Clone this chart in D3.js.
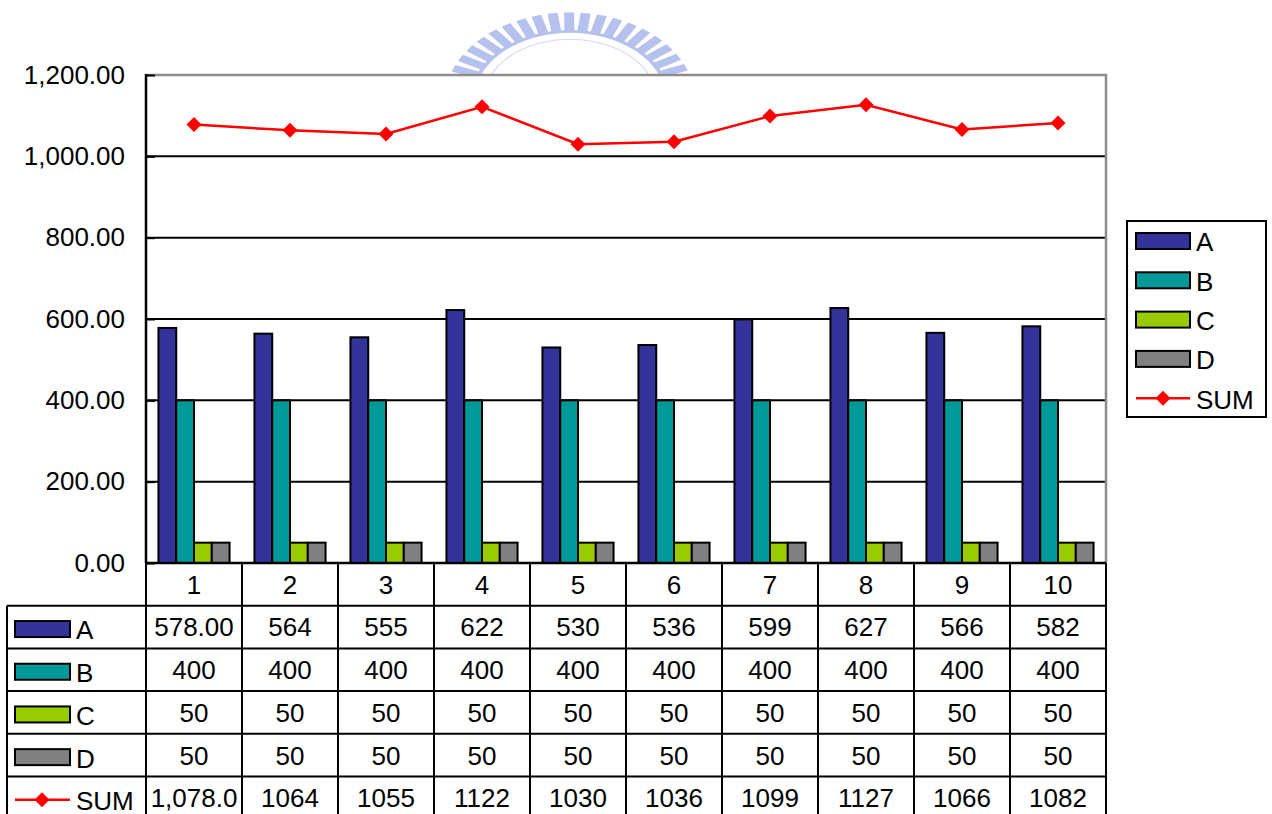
<!DOCTYPE html>
<html>
<head>
<meta charset="utf-8">
<script src="https://cdn.jsdelivr.net/npm/d3@7"></script>
<style>
  body { margin: 0; background: #fff; }
  svg text { font-family: "Liberation Sans", Arial, sans-serif; fill: #000; }
</style>
</head>
<body>
<div id="chart"></div>
<script>
var width = 1272
var height = 814

// chart data
var categories = ["1", "2", "3", "4", "5", "6", "7", "8", "9", "10"]
var seriesNames = ["A", "B", "C", "D"]
var valuesA = [578, 564, 555, 622, 530, 536, 599, 627, 566, 582]
var valuesB = [400, 400, 400, 400, 400, 400, 400, 400, 400, 400]
var valuesC = [50, 50, 50, 50, 50, 50, 50, 50, 50, 50]
var valuesD = [50, 50, 50, 50, 50, 50, 50, 50, 50, 50]
var valuesSum = [1078, 1064, 1055, 1122, 1030, 1036, 1099, 1127, 1066, 1082]
var yTicks = [0, 200, 400, 600, 800, 1000, 1200]
var barColors = ["#333399", "#009999", "#99cc00", "#808080"]
var sumColor = "#ff0000"
// number formats in the data table (first column differs from the others)
var firstColFormats = [".2f", "d", "d", "d", ",.1f"]
var otherColFormat = "d"

var barSeries = [valuesA, valuesB, valuesC, valuesD]

// plot area
var plot = {left: 146, right: 1106, top: 75, bottom: 563}
var rowH = 42.7
var tableLeft = 7
var fontSize = 26

var svg = d3.select("#chart").append("svg")
    .attr("width", width)
    .attr("height", height)

// faint watermark logo behind the chart
var wm = svg.append("g")
    .attr("transform", "translate(570,100) scale(1,0.7)")
    .attr("opacity", 0.5)
for (var a = -84; a <= 84; a += 7.6) {
    wm.append("rect")
        .attr("x", -5).attr("y", -125)
        .attr("width", 10).attr("height", 28)
        .attr("fill", "#6f86dc")
        .attr("transform", "rotate(" + a + ")")
}
wm.append("path")
    .attr("d", d3.arc()({innerRadius: 96, outerRadius: 100, startAngle: -1.5, endAngle: 1.5}))
    .attr("fill", "#6f86dc")
wm.append("path")
    .attr("d", d3.arc()({innerRadius: 86, outerRadius: 87.5, startAngle: -1.3, endAngle: 1.3}))
    .attr("fill", "#a9b8ea")

// scales
var x = d3.scaleBand().domain(categories).range([plot.left, plot.right]).paddingInner(0).paddingOuter(0)
var xInner = d3.scaleBand().domain(seriesNames).range([0, x.bandwidth()]).paddingInner(0).paddingOuter(0.7)
var y = d3.scaleLinear().domain([0, 1200]).range([plot.bottom, plot.top])

// plot background
svg.append("rect")
    .attr("x", plot.left).attr("y", plot.top)
    .attr("width", plot.right - plot.left).attr("height", plot.bottom - plot.top)
    .attr("fill", "#fff")

// gridlines
svg.append("g").selectAll("line")
    .data(yTicks.filter(function(d) { return d > 0 && d < 1200 }))
    .enter().append("line")
    .attr("x1", plot.left).attr("x2", plot.right)
    .attr("y1", function(d) { return y(d) }).attr("y2", function(d) { return y(d) })
    .attr("stroke", "#000").attr("stroke-width", 2)

// gray frame (top and right)
svg.append("path")
    .attr("d", "M" + plot.left + "," + y(1200) + "H" + plot.right + "V" + plot.bottom)
    .attr("fill", "none").attr("stroke", "#8c8c8c").attr("stroke-width", 2.5)

// bars
var groups = svg.append("g").selectAll("g")
    .data(categories)
    .enter().append("g")
    .attr("transform", function(d) { return "translate(" + x(d) + ",0)" })

groups.selectAll("rect")
    .data(function(d, i) { return barSeries.map(function(s, j) { return {name: seriesNames[j], value: s[i], k: j} }) })
    .enter().append("rect")
    .attr("x", function(d) { return xInner(d.name) })
    .attr("width", xInner.bandwidth())
    .attr("y", function(d) { return y(d.value) })
    .attr("height", function(d) { return y(0) - y(d.value) })
    .attr("fill", function(d) { return barColors[d.k] })
    .attr("stroke", "#000").attr("stroke-width", 2)

// y axis
var yAxis = d3.axisLeft(y)
    .tickValues(yTicks)
    .tickFormat(d3.format(",.2f"))
    .tickSizeInner(-9)
    .tickSizeOuter(0)
    .tickPadding(21)
var yG = svg.append("g")
    .attr("transform", "translate(" + plot.left + ",0)")
    .call(yAxis)
yG.select(".domain").remove()
yG.selectAll(".tick line").attr("stroke", "#000").attr("stroke-width", 2)
yG.selectAll(".tick text")
    .attr("font-size", fontSize)
    .attr("font-family", "Liberation Sans, Arial, sans-serif")
    .attr("fill", "#000")
svg.append("line")
    .attr("x1", plot.left).attr("x2", plot.left)
    .attr("y1", plot.top - 1).attr("y2", plot.bottom)
    .attr("stroke", "#000").attr("stroke-width", 2.5)

// SUM line with diamond markers
var line = d3.line()
    .x(function(d, i) { return x(categories[i]) + x.bandwidth() / 2 })
    .y(function(d) { return y(d) })
svg.append("path")
    .datum(valuesSum)
    .attr("d", line)
    .attr("fill", "none").attr("stroke", sumColor).attr("stroke-width", 2.5)

var diamond = "M0,-7.5L7.5,0L0,7.5L-7.5,0Z"
svg.append("g").selectAll("path")
    .data(valuesSum)
    .enter().append("path")
    .attr("d", diamond)
    .attr("transform", function(d, i) { return "translate(" + (x(categories[i]) + x.bandwidth() / 2) + "," + y(d) + ")" })
    .attr("fill", sumColor)

// data table
var table = svg.append("g")
var rowNames = seriesNames.concat(["SUM"])
var rowValues = barSeries.concat([valuesSum])
var tableTop = plot.bottom + rowH   // first data row

// category label row
table.selectAll(".cat")
    .data(categories)
    .enter().append("text")
    .attr("class", "cat")
    .attr("x", function(d) { return x(d) + x.bandwidth() / 2 })
    .attr("y", plot.bottom + rowH / 2)
    .attr("dy", "0.36em")
    .attr("text-anchor", "middle")
    .attr("font-size", fontSize)
    .text(function(d) { return d })

// row lines
var rowLines = d3.range(0, rowNames.length + 1).map(function(i) { return tableTop + i * rowH })
table.selectAll(".rowline")
    .data(rowLines)
    .enter().append("line")
    .attr("x1", tableLeft).attr("x2", plot.right)
    .attr("y1", function(d) { return d }).attr("y2", function(d) { return d })
    .attr("stroke", "#000").attr("stroke-width", 2)

// column lines
var colLines = categories.map(function(c) { return x(c) }).concat([plot.right])
table.selectAll(".colline")
    .data(colLines)
    .enter().append("line")
    .attr("x1", function(d) { return d }).attr("x2", function(d) { return d })
    .attr("y1", plot.bottom).attr("y2", height + 5)
    .attr("stroke", "#000").attr("stroke-width", 2)
table.append("line")
    .attr("x1", tableLeft).attr("x2", tableLeft)
    .attr("y1", tableTop).attr("y2", height + 5)
    .attr("stroke", "#000").attr("stroke-width", 2)
// axis line along the bottom of the plot
table.append("line")
    .attr("x1", plot.left - 1).attr("x2", plot.right)
    .attr("y1", plot.bottom).attr("y2", plot.bottom)
    .attr("stroke", "#000").attr("stroke-width", 2.5)

// table values
rowNames.forEach(function(name, r) {
    var cy = tableTop + r * rowH + rowH / 2
    table.append("g").selectAll("text")
        .data(rowValues[r])
        .enter().append("text")
        .attr("x", function(d, i) { return x(categories[i]) + x.bandwidth() / 2 })
        .attr("y", cy)
        .attr("dy", "0.36em")
        .attr("text-anchor", "middle")
        .attr("font-size", fontSize)
        .text(function(d, i) { return d3.format(i === 0 ? firstColFormats[r] : otherColFormat)(d) })

    // legend key in the first column
    if (r < 4) {
        table.append("rect")
            .attr("x", 15).attr("y", cy - 6)
            .attr("width", 55).attr("height", 16)
            .attr("fill", barColors[r])
            .attr("stroke", "#000").attr("stroke-width", 2)
    } else {
        table.append("line")
            .attr("x1", 15).attr("x2", 70)
            .attr("y1", cy + 2).attr("y2", cy + 2)
            .attr("stroke", sumColor).attr("stroke-width", 2.5)
        table.append("path")
            .attr("d", diamond)
            .attr("transform", "translate(42," + (cy + 2) + ")")
            .attr("fill", sumColor)
    }
    table.append("text")
        .attr("x", 76).attr("y", cy + 3)
        .attr("dy", "0.36em")
        .attr("font-size", fontSize)
        .text(name)
})

// legend
var legend = svg.append("g").attr("transform", "translate(1127,221)")
legend.append("rect")
    .attr("width", 139).attr("height", 196)
    .attr("fill", "#fff").attr("stroke", "#000").attr("stroke-width", 2)
var legendItems = legend.selectAll(".item")
    .data(rowNames)
    .enter().append("g")
    .attr("class", "item")
    .attr("transform", function(d, i) { return "translate(0," + (20 + i * 39.3) + ")" })
legendItems.each(function(d, i) {
    var g = d3.select(this)
    if (i < 4) {
        g.append("rect")
            .attr("x", 9).attr("y", -8)
            .attr("width", 54).attr("height", 16)
            .attr("fill", barColors[i])
            .attr("stroke", "#000").attr("stroke-width", 2)
    } else {
        g.append("line")
            .attr("x1", 9).attr("x2", 63)
            .attr("stroke", sumColor).attr("stroke-width", 2.5)
        g.append("path").attr("d", diamond).attr("transform", "translate(36,0)").attr("fill", sumColor)
    }
    g.append("text")
        .attr("x", 69).attr("y", 1)
        .attr("dy", "0.36em")
        .attr("font-size", fontSize)
        .text(d)
})
</script>
</body>
</html>
